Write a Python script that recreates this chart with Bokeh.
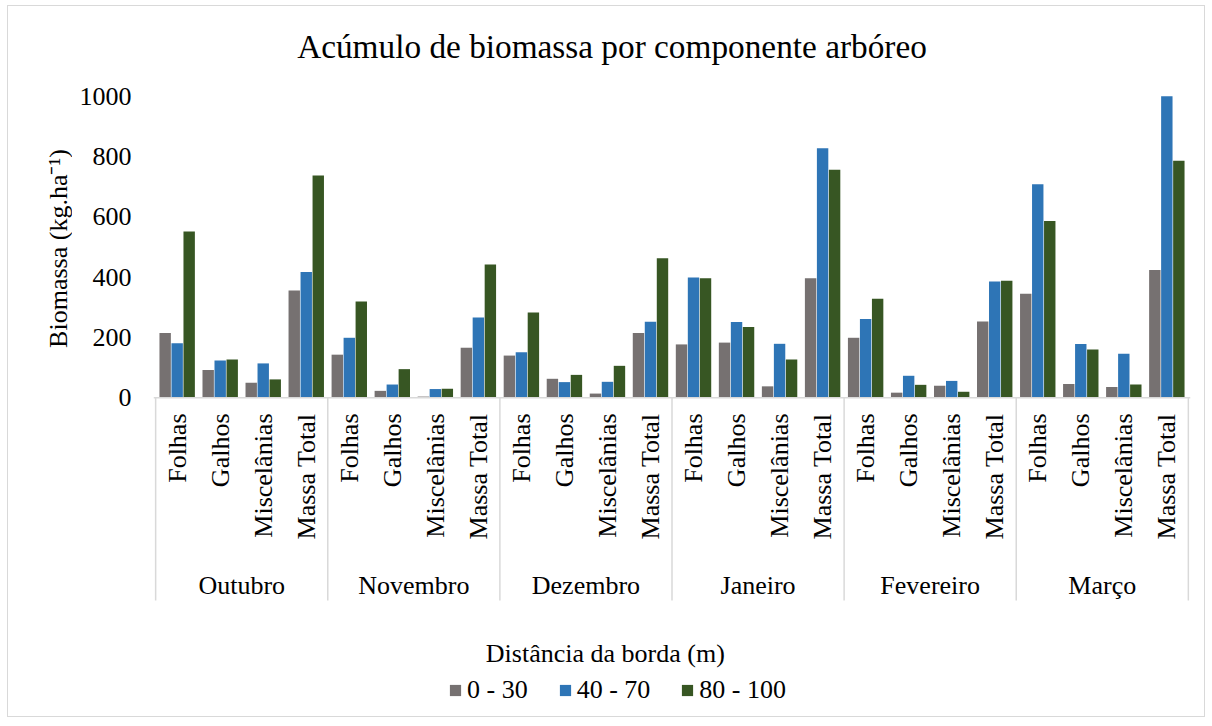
import math
from bokeh.plotting import figure
from bokeh.layouts import row
from bokeh.models import (FactorRange, FixedTicker, Legend, LegendItem,
                          ColumnDataSource, Span, Range1d)
from bokeh.transform import dodge
from bokeh.core.properties import value
from bokeh.embed import file_html
from bokeh.resources import INLINE

months = ["Outubro", "Novembro", "Dezembro", "Janeiro", "Fevereiro", "Março"]
components = ["Folhas", "Galhos", "Miscelânias", "Massa Total"]
series = ["0 - 30", "40 - 70", "80 - 100"]
colors = ["#767171", "#2E75B6", "#375623"]

# values: month by month, components in order Folhas, Galhos, Miscelânias, Massa Total
v_0_30 = [215, 92, 50, 356,
          143, 23, 4, 166,
          140, 63, 14, 215,
          177, 183, 38, 396,
          199, 17, 40, 253,
          345, 46, 36, 424]
v_40_70 = [181, 124, 114, 417,
           199, 44, 29, 266,
           151, 52, 53, 252,
           399, 251, 179, 827,
           261, 73, 56, 386,
           708, 178, 146, 1000]
v_80_100 = [551, 127, 61, 737,
            319, 95, 30, 442,
            283, 76, 106, 463,
            396, 235, 127, 756,
            328, 43, 20, 388,
            586, 160, 44, 786]
y_ticks = [0, 200, 400, 600, 800, 1000]

title = "Acúmulo de biomassa por componente arbóreo"
y_title = "Biomassa (kg.ha⁻¹)"
legend_title = "Distância da borda (m)"

FONT = "Liberation Serif"
SEP = "#d9d9d9"
Y_RANGE = (-1056.7, 1297.4)

factors = [(m, c) for m in months for c in components]
src = ColumnDataSource(dict(x=factors, s0=v_0_30, s1=v_40_70, s2=v_80_100))

x_range = FactorRange(*factors, group_padding=0, subgroup_padding=0,
                      factor_padding=0, range_padding=0.05,
                      range_padding_units="absolute")

offsets = [-0.279, 0.0, 0.279]
cols = ["s0", "s1", "s2"]

# ---------------- narrow left figure: y axis title ----------------
lbl = figure(width=64, height=710, x_range=Range1d(0, 64), y_range=Range1d(*Y_RANGE),
             output_backend="svg", toolbar_location=None, x_axis_location=None,
             y_axis_location=None, min_border=0)
lbl.outline_line_color = None
lbl.xgrid.visible = False
lbl.ygrid.visible = False
lbl.text(x=[50], y=[495], text=[y_title], angle=math.pi / 2,
         text_align="center", text_baseline="middle",
         text_font=value(FONT), text_font_size="26px", text_color="black")

# ---------------- main figure ----------------
p = figure(width=1132, height=710, x_range=x_range, y_range=Range1d(*Y_RANGE),
           output_backend="svg", toolbar_location=None, x_axis_location=None,
           min_border_left=81, min_border_right=14, min_border_top=0,
           min_border_bottom=0)
p.outline_line_color = None
p.xgrid.visible = False
p.ygrid.visible = False

ax = p.yaxis[0]
ax.ticker = FixedTicker(ticks=y_ticks)
ax.axis_line_color = None
ax.major_tick_line_color = None
ax.minor_tick_line_color = None
ax.major_tick_in = 0
ax.major_tick_out = 0
ax.major_label_standoff = 22
ax.major_label_text_font = FONT
ax.major_label_text_font_size = "26px"
ax.major_label_text_color = "black"

p.add_layout(Span(location=0, dimension="width", line_color=SEP, line_width=1.5))

renderers = []
for off, col, colr in zip(offsets, cols, colors):
    r = p.vbar(x=dodge("x", off, range=p.x_range), top=col, width=0.265,
               source=src, fill_color=colr, line_color=None)
    renderers.append(r)

bounds = [i * len(components) for i in range(len(months) + 1)]
p.segment(x0=bounds, y0=[0] * len(bounds), x1=bounds, y1=[-672] * len(bounds),
          line_color=SEP, line_width=1.5)

# category labels
p.text(x=factors, y=[-52] * len(factors), text=[c for m, c in factors],
       angle=math.pi / 2, text_align="right", text_baseline="middle",
       text_font=value(FONT), text_font_size="26px", text_color="black")
p.text(x=months, y=[-622] * len(months), text=months,
       text_align="center", text_baseline="middle",
       text_font=value(FONT), text_font_size="26px", text_color="black")

# chart title and legend title
p.text(x=[10.605], y=[1164.8], text=[title], text_align="center",
       text_baseline="middle", text_font=value(FONT),
       text_font_size="33.3px", text_color="black")
p.text(x=[10.45], y=[-848], text=[legend_title], text_align="center",
       text_baseline="middle", text_font=value(FONT),
       text_font_size="26px", text_color="black")

legend = Legend(items=[LegendItem(label=s, renderers=[r]) for s, r in zip(series, renderers)],
                orientation="horizontal", location=(295, 11))
legend.label_text_font = FONT
legend.label_text_font_size = "26px"
legend.label_text_color = "black"
legend.glyph_width = 14
legend.glyph_height = 14
legend.label_standoff = 5
legend.spacing = 30
legend.padding = 0
legend.margin = 0
legend.border_line_color = None
legend.background_fill_alpha = 0
p.add_layout(legend)

layout = row(lbl, p, spacing=0)
layout.styles = {"margin": "5px 0 0 7px", "border": "1px solid #d9d9d9"}
open("out.html", "w").write(file_html(layout, INLINE))
